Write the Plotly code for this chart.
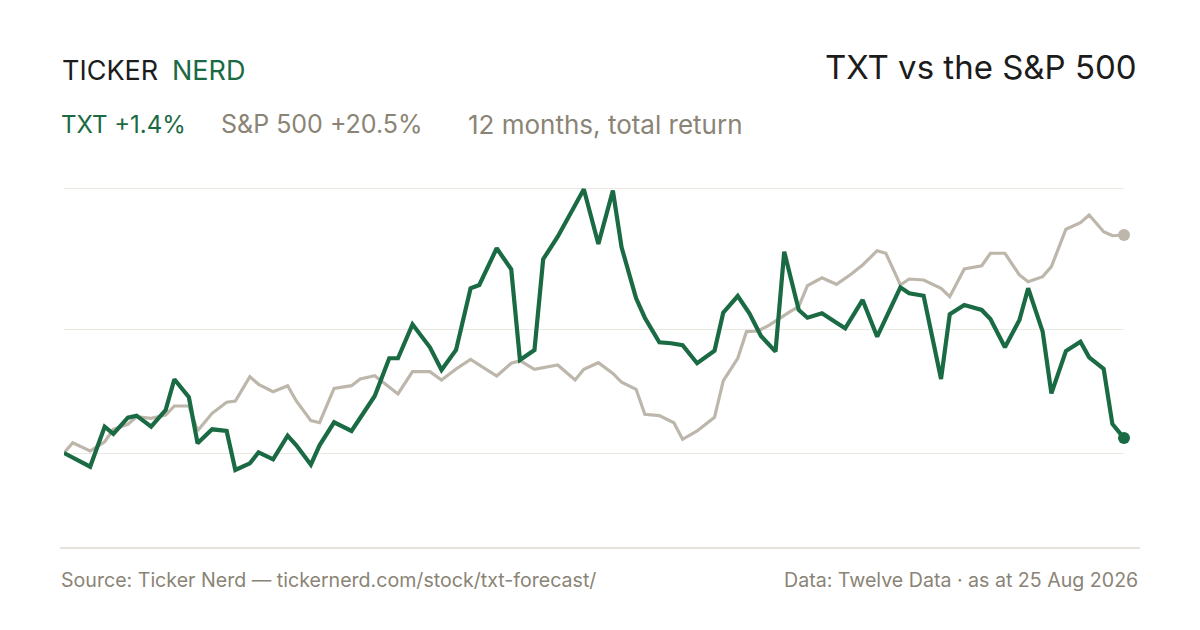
import pandas as pd
import plotly.graph_objects as go

# ---------------- data ----------------
start_date = "2025-08-25"
end_date = "2026-08-25"

# TXT cumulative total return (%), day offsets from start
txt_days = [0, 9, 14, 17, 22, 25, 30, 35, 38, 43, 46, 51, 56, 59, 64, 67, 72, 77, 80, 85,
            88, 93, 99, 107, 112, 115, 120, 126, 130, 135, 140, 143, 149, 154, 157, 162, 165,
            170, 179, 184, 189, 192, 197, 200, 205, 209, 213, 218, 224, 227, 232, 236, 240,
            245, 248, 253, 256, 261, 266, 269, 275, 280, 288, 291, 296, 302, 305, 310, 316,
            319, 324, 329, 332, 337, 340, 345, 350, 353, 358, 361, 365]
txt_ret = [0.0, -1.29, 2.47, 1.79, 3.32, 3.51, 2.47, 4.04, 6.93, 5.24, 0.91, 2.23, 2.07, -1.60,
           -0.97, 0.07, -0.59, 1.63, 0.72, -1.10, 0.72, 2.89, 2.07, 5.36, 8.91, 8.91, 12.10,
           9.94, 7.81, 9.69, 15.49, 15.80, 19.25, 17.27, 8.75, 9.69, 18.22, 20.34, 24.80,
           19.65, 24.67, 19.34, 14.55, 12.72, 10.41, 10.32, 10.13, 8.44, 9.62, 13.19, 14.76,
           13.14, 11.00, 9.53, 18.93, 13.45, 12.72, 13.14, 12.25, 11.73, 14.39, 10.94, 15.58,
           15.02, 14.79, 6.96, 13.04, 13.92, 13.45, 12.60, 9.94, 12.51, 15.49, 11.41, 5.61,
           9.59, 10.47, 9.00, 7.90, 2.73, 1.40]

# S&P 500 cumulative total return (%), day offsets from start
spx_days = [0, 3, 9, 14, 17, 22, 25, 30, 35, 38, 43, 46, 51, 56, 59, 64, 67, 72, 77, 80, 85,
            88, 93, 99, 102, 107, 115, 120, 126, 130, 135, 140, 149, 154, 157, 162, 170, 176,
            179, 184, 189, 192, 197, 200, 205, 210, 213, 218, 224, 227, 232, 235, 239, 243,
            250, 253, 256, 261, 266, 271, 275, 280, 283, 288, 291, 296, 302, 305, 310, 316,
            319, 324, 329, 332, 337, 340, 345, 350, 353, 358, 361, 365]
spx_ret = [0.0, 0.97, 0.19, 1.06, 2.23, 2.70, 3.41, 3.26, 3.57, 4.42, 4.42, 2.10, 3.73, 4.77,
           4.89, 7.18, 6.46, 5.76, 6.33, 4.89, 3.04, 2.85, 6.08, 6.33, 6.96, 7.27, 5.55, 7.65,
           7.65, 6.86, 7.90, 8.81, 7.24, 8.44, 8.68, 7.87, 8.28, 6.86, 7.87, 8.49, 7.49, 6.65,
           5.99, 3.64, 3.51, 2.85, 1.29, 2.07, 3.36, 6.77, 8.91, 11.41, 11.47, 12.04, 13.29,
           13.76, 15.73, 16.48, 15.86, 16.80, 17.68, 19.02, 18.78, 15.80, 16.36, 16.27, 15.49,
           14.70, 17.30, 17.61, 18.78, 18.78, 16.74, 16.11, 16.58, 17.52, 21.04, 21.66, 22.38,
           20.81, 20.43, 20.50]

grid_vals = [0.0, 11.66, 24.83]
y_range = [-7.24, 26.61]

title_text = "TXT vs the S&P 500"
brand_a, brand_b = "TICKER", "NERD"
txt_label = "TXT +1.4%"
spx_label = "S&P 500 +20.5%"
period_label = "12 months, total return"
source_text = "Source: Ticker Nerd \u2014 tickernerd.com/stock/txt-forecast/"
data_text = "Data: Twelve Data \u00b7 as at 25 Aug 2026"

# ---------------- styling ----------------
GREEN = "#1a6a43"
GREY_LINE = "#bdb6ab"
GREY_TEXT = "#8a8476"
DARK = "#1c1c1c"
GRID = "#ebe8e2"
FONT = "Inter"

W, H = 1200, 630
L, R, T, B = 64, 76, 170, 100
PW, PH = W - L - R, H - T - B


def px(x):
    return (x - L) / PW


def py(y):
    return (H - B - y) / PH


t0 = pd.Timestamp(start_date)
txt_x = [t0 + pd.Timedelta(days=d) for d in txt_days]
spx_x = [t0 + pd.Timedelta(days=d) for d in spx_days]

fig = go.Figure()
fig.add_trace(go.Scatter(x=spx_x, y=spx_ret, mode="lines",
                         line=dict(color=GREY_LINE, width=3.2), cliponaxis=False,
                         hoverinfo="skip", showlegend=False))
fig.add_trace(go.Scatter(x=txt_x, y=txt_ret, mode="lines",
                         line=dict(color=GREEN, width=4.2), cliponaxis=False,
                         hoverinfo="skip", showlegend=False))
fig.add_trace(go.Scatter(x=[spx_x[-1]], y=[spx_ret[-1]], mode="markers",
                         marker=dict(color=GREY_LINE, size=12), cliponaxis=False,
                         hoverinfo="skip", showlegend=False))
fig.add_trace(go.Scatter(x=[txt_x[-1]], y=[txt_ret[-1]], mode="markers",
                         marker=dict(color=GREEN, size=12), cliponaxis=False,
                         hoverinfo="skip", showlegend=False))

fig.update_layout(
    width=W, height=H,
    margin=dict(l=L, r=R, t=T, b=B),
    paper_bgcolor="white", plot_bgcolor="white",
    font=dict(family=FONT, color=GREY_TEXT),
    xaxis=dict(range=[start_date, end_date], showgrid=False, zeroline=False,
               showticklabels=False, ticks="", showline=False),
    yaxis=dict(range=y_range, tickvals=grid_vals, showticklabels=False,
               showgrid=True, gridcolor=GRID, gridwidth=1.2, zeroline=False,
               ticks="", showline=False),
)

ann = []
ann.append(dict(text=brand_a, x=px(60), y=py(70), xanchor="left", yanchor="middle",
                font=dict(size=27, color=DARK, family=FONT)))
ann.append(dict(text=brand_b, x=px(170), y=py(70), xanchor="left", yanchor="middle",
                font=dict(size=27, color=GREEN, family=FONT)))
ann.append(dict(text=title_text, x=px(1139), y=py(67), xanchor="right", yanchor="middle",
                font=dict(size=33, color=DARK, family=FONT)))
ann.append(dict(text=txt_label, x=px(59), y=py(124), xanchor="left", yanchor="middle",
                font=dict(size=24, color=GREEN, family=FONT)))
ann.append(dict(text=spx_label, x=px(219), y=py(124), xanchor="left", yanchor="middle",
                font=dict(size=25, color=GREY_TEXT, family=FONT)))
ann.append(dict(text=period_label, x=px(466), y=py(124), xanchor="left", yanchor="middle",
                font=dict(size=26, color=GREY_TEXT, family=FONT)))
ann.append(dict(text=source_text, x=px(59), y=py(580), xanchor="left", yanchor="middle",
                font=dict(size=19.6, color=GREY_TEXT, family=FONT)))
ann.append(dict(text=data_text, x=px(1140), y=py(580), xanchor="right", yanchor="middle",
                font=dict(size=19.6, color=GREY_TEXT, family=FONT)))
for a in ann:
    a.update(xref="paper", yref="paper", showarrow=False)
fig.update_layout(annotations=ann)

fig.add_shape(type="line", xref="paper", yref="paper", x0=px(60), x1=px(1140),
              y0=py(548), y1=py(548), line=dict(color="#dcd8cf", width=1.5))

fig.write_html("out.html", config={"displayModeBar": False},
               post_script="document.body.style.margin='0';")
